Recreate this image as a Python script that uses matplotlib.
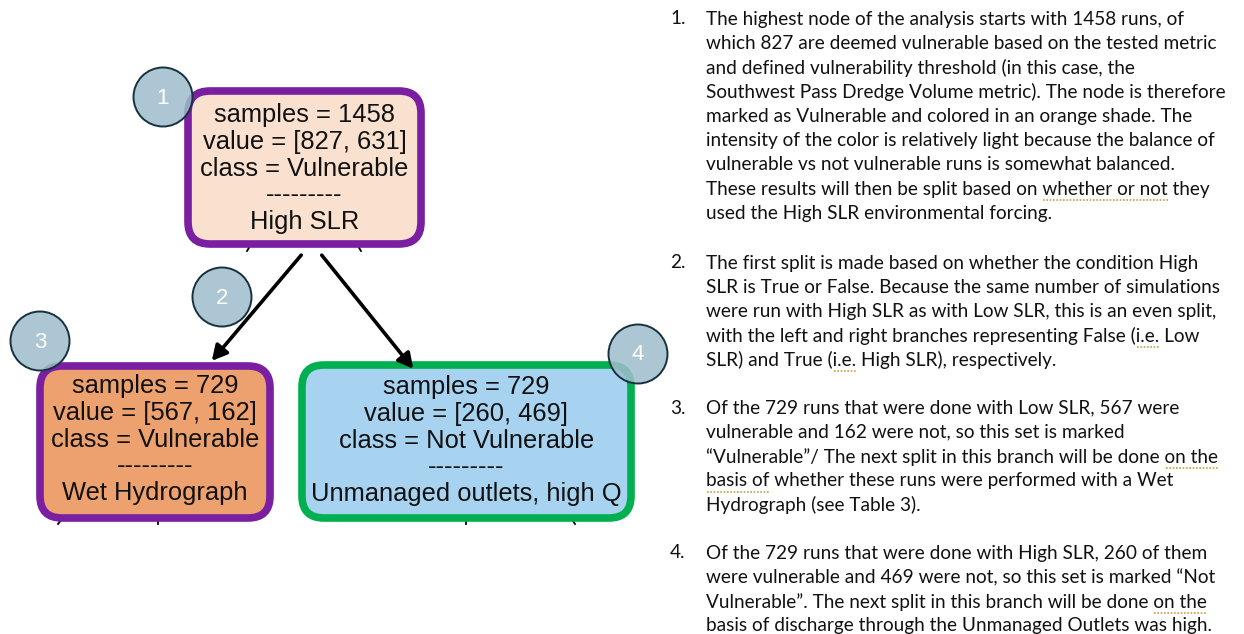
import matplotlib
matplotlib.use("Agg")
import matplotlib.pyplot as plt
from matplotlib.patches import FancyBboxPatch, Circle, FancyArrowPatch

# ---------------- data ----------------
node_samples = [1458, 729, 729]
node_values = [[827, 631], [567, 162], [260, 469]]
node_classes = ["Vulnerable", "Vulnerable", "Not Vulnerable"]
node_splits = ["High SLR", "Wet Hydrograph", "Unmanaged outlets, high Q"]
node_fill = ["#F9E0CF", "#EDA16E", "#A7D3F1"]
node_edge = ["#7A1FA2", "#7A1FA2", "#00B050"]
callout_labels = ["1", "2", "3", "4"]

para_numbers = ["1.", "2.", "3.", "4."]
para_lines = [
    ["The highest node of the analysis starts with 1458 runs, of",
     "which 827 are deemed vulnerable based on the tested metric",
     "and defined vulnerability threshold (in this case, the",
     "Southwest Pass Dredge Volume metric). The node is therefore",
     "marked as Vulnerable and colored in an orange shade. The",
     "intensity of the color is relatively light because the balance of",
     "vulnerable vs not vulnerable runs is somewhat balanced.",
     "These results will then be split based on whether or not they",
     "used the High SLR environmental forcing."],
    ["The first split is made based on whether the condition High",
     "SLR is True or False. Because the same number of simulations",
     "were run with High SLR as with Low SLR, this is an even split,",
     "with the left and right branches representing False (i.e. Low",
     "SLR) and True (i.e. High SLR), respectively."],
    ["Of the 729 runs that were done with Low SLR, 567 were",
     "vulnerable and 162 were not, so this set is marked",
     "\u201cVulnerable\u201d/ The next split in this branch will be done on the",
     "basis of whether these runs were performed with a Wet",
     "Hydrograph (see Table 3)."],
    ["Of the 729 runs that were done with High SLR, 260 of them",
     "were vulnerable and 469 were not, so this set is marked \u201cNot",
     "Vulnerable\u201d. The next split in this branch will be done on the",
     "basis of discharge through the Unmanaged Outlets was high."],
]
# (paragraph, line, substring) with dotted proofing underline
underlines = [(0, 7, "whether or not"), (1, 3, "i.e."), (1, 4, "i.e."),
              (2, 2, "on the"), (2, 3, "basis of"), (3, 2, "on the")]

# ---------------- layout ----------------
W, H = 1244, 634
fig = plt.figure(figsize=(W / 100, H / 100), dpi=100)
ax = fig.add_axes([0, 0, 1, 1])
ax.set_xlim(0, W)
ax.set_ylim(H, 0)
ax.axis("off")

boxes = [(188, 91, 233, 153), (40, 366, 230, 152), (302, 365, 329, 153)]
text_offsets = [24, 20, 22]
box_font = "Liberation Sans"
box_fs = 18.4
line_gap = 26.8

for i, (x, y, w, h) in enumerate(boxes):
    p = FancyBboxPatch((x, y), w, h,
                       boxstyle="round,pad=0,rounding_size=22",
                       fc=node_fill[i], ec=node_edge[i], lw=5.5, zorder=2)
    ax.add_patch(p)
    lines = [f"samples = {node_samples[i]}",
             f"value = [{node_values[i][0]}, {node_values[i][1]}]",
             f"class = {node_classes[i]}",
             "---------",
             node_splits[i]]
    cx = x + w / 2
    for k, t in enumerate(lines):
        ax.text(cx, y + text_offsets[i] + k * line_gap, t, ha="center", va="center",
                fontsize=box_fs, family=box_font, color="#111111", zorder=3)

# arrows
arrows = [((303, 253), (210, 363)), ((320, 253), (415, 371))]
for (p0, p1) in arrows:
    ax.add_patch(FancyArrowPatch(p0, p1, arrowstyle="-|>,head_length=6,head_width=3.2",
                                 color="black", lw=2.6, mutation_scale=1.5, zorder=4))

# tiny arrow-tail remnants under boxes
stubs = [((250, 246), (247, 251)), ((358, 246), (361, 251)),
         ((62, 519), (58, 524)), ((158, 518), (158, 524)),
         ((466, 518), (466, 524)), ((571, 518), (575, 524))]
for (a, b) in stubs:
    ax.plot([a[0], b[0]], [a[1], b[1]], color="black", lw=1.3, zorder=1)

# callout circles
circles = [(163, 97), (222, 297), (40, 341), (638, 354)]
for (cx, cy), lab in zip(circles, callout_labels):
    ax.add_patch(Circle((cx, cy), 29.5, fc=(0.62, 0.74, 0.80, 0.85),
                        ec="#17313f", lw=1.4, zorder=5))
    ax.text(cx, cy + 1, lab, ha="center", va="center", fontsize=16,
            family="Liberation Sans", color="white", zorder=6)

# right-hand text
txt_font = "Lato"
txt_fs = 13.7
num_x, body_x = 670, 706
para_y0 = [19, 263, 408, 553]
lh = 24.3
txt_color = "#111111"
fig.canvas.draw()
renderer = fig.canvas.get_renderer()
inv = ax.transData.inverted()
for pi, lines in enumerate(para_lines):
    ax.text(num_x, para_y0[pi], para_numbers[pi], ha="left", va="center",
            fontsize=txt_fs, family=txt_font, color=txt_color)
    for li, t in enumerate(lines):
        ax.text(body_x, para_y0[pi] + li * lh, t, ha="left", va="center",
                fontsize=txt_fs, family=txt_font, color=txt_color)

for pi, li, sub in underlines:
    line = para_lines[pi][li]
    idx = line.index(sub)
    yy = para_y0[pi] + li * lh
    pre = ax.text(body_x, yy, line[:idx], fontsize=txt_fs, family=txt_font, va="center")
    full = ax.text(body_x, yy, line[:idx + len(sub)], fontsize=txt_fs, family=txt_font, va="center")
    e0 = pre.get_window_extent(renderer)
    e1 = full.get_window_extent(renderer)
    pre.remove(); full.remove()
    x0 = inv.transform((e0.x1 if idx > 0 else e0.x0, 0))[0]
    x1 = inv.transform((e1.x1, 0))[0]
    ax.plot([x0 + 1, x1], [yy + 11, yy + 11], color="#C8A040", lw=1.2,
            linestyle=(0, (1, 1)), zorder=2)

fig.savefig("out.png", dpi=100)
